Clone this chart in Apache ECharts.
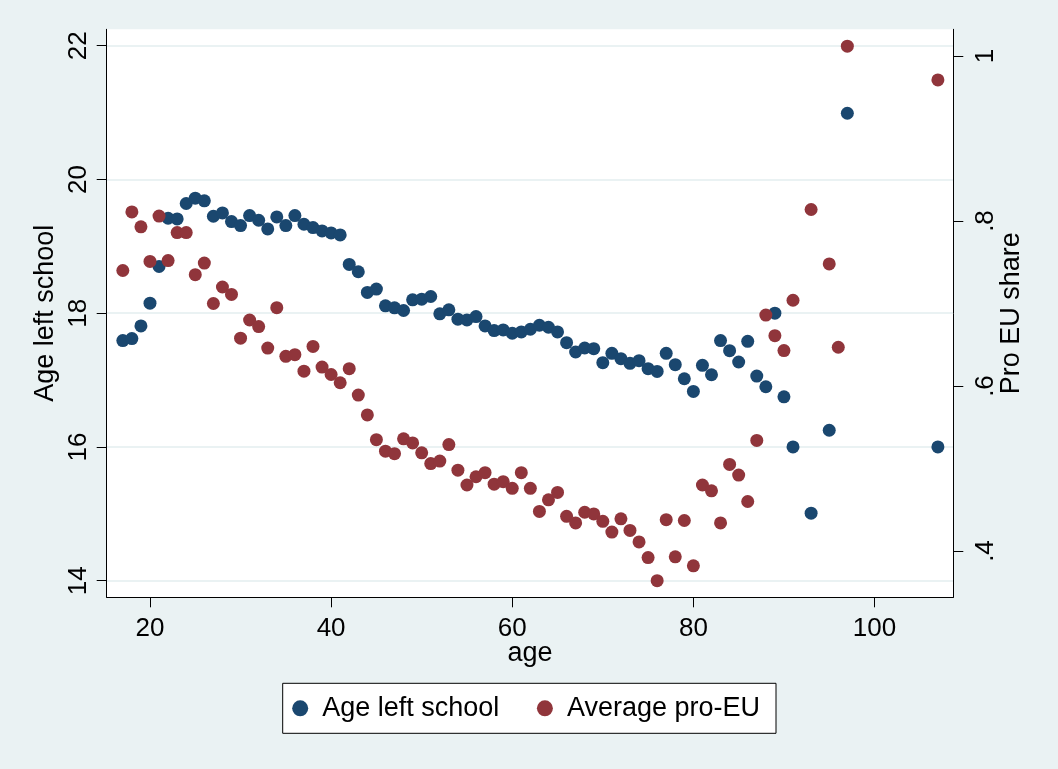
<!DOCTYPE html>
<html>
<head>
<meta charset="utf-8">
<script src="https://cdn.jsdelivr.net/npm/echarts@6/dist/echarts.min.js"></script>
<style>
  html, body { margin: 0; padding: 0; background: #EAF2F3; }
  #chart { width: 1058px; height: 769px; }
</style>
</head>
<body>
<div id="chart"></div>
<script>
// Age at which respondents left school, averaged by age
const schoolAges = [
  17, 18, 19, 20, 21, 22, 23, 24, 25, 26,
  27, 28, 29, 30, 31, 32, 33, 34, 35, 36,
  37, 38, 39, 40, 41, 42, 43, 44, 45, 46,
  47, 48, 49, 50, 51, 52, 53, 54, 55, 56,
  57, 58, 59, 60, 61, 62, 63, 64, 65, 66,
  67, 68, 69, 70, 71, 72, 73, 74, 75, 76,
  77, 78, 79, 80, 81, 82, 83, 84, 85, 86,
  87, 88, 89, 90, 91, 93, 95, 97, 107
];
const schoolValues = [
  17.59, 17.62, 17.81, 18.15, 18.70, 19.42, 19.41, 19.64, 19.72, 19.68,
  19.45, 19.50, 19.37, 19.31, 19.46, 19.39, 19.26, 19.44, 19.31, 19.46,
  19.33, 19.28, 19.23, 19.20, 19.17, 18.73, 18.62, 18.31, 18.36, 18.11,
  18.08, 18.04, 18.20, 18.21, 18.25, 17.99, 18.05, 17.91, 17.90, 17.95,
  17.81, 17.74, 17.75, 17.70, 17.72, 17.76, 17.82, 17.79, 17.72, 17.56,
  17.42, 17.48, 17.47, 17.26, 17.40, 17.32, 17.25, 17.29, 17.17, 17.13,
  17.40, 17.23, 17.02, 16.83, 17.22, 17.08, 17.59, 17.44, 17.27, 17.58,
  17.06, 16.90, 18.00, 16.75, 16.00, 15.01, 16.25, 20.99, 16.00
];

// Share of respondents with pro-EU views, averaged by age
const euAges = [
  17, 18, 19, 20, 21, 22, 23, 24, 25, 26,
  27, 28, 29, 30, 31, 32, 33, 34, 35, 36,
  37, 38, 39, 40, 41, 42, 43, 44, 45, 46,
  47, 48, 49, 50, 51, 52, 53, 54, 55, 56,
  57, 58, 59, 60, 61, 62, 63, 64, 65, 66,
  67, 68, 69, 70, 71, 72, 73, 74, 75, 76,
  77, 78, 79, 80, 81, 82, 83, 84, 85, 86,
  87, 88, 89, 90, 91, 93, 95, 96, 97, 107
];
const euValues = [
  0.740, 0.811, 0.793, 0.751, 0.806, 0.752, 0.786, 0.786, 0.735, 0.749,
  0.700, 0.720, 0.711, 0.658, 0.680, 0.672, 0.646, 0.695, 0.636, 0.638,
  0.618, 0.648, 0.623, 0.614, 0.604, 0.621, 0.589, 0.565, 0.535, 0.521,
  0.518, 0.536, 0.531, 0.519, 0.506, 0.509, 0.529, 0.498, 0.480, 0.490,
  0.495, 0.481, 0.484, 0.476, 0.495, 0.476, 0.448, 0.462, 0.471, 0.442,
  0.434, 0.447, 0.445, 0.436, 0.423, 0.439, 0.425, 0.411, 0.392, 0.364,
  0.438, 0.393, 0.437, 0.382, 0.480, 0.473, 0.434, 0.505, 0.492, 0.460,
  0.534, 0.686, 0.661, 0.643, 0.704, 0.814, 0.748, 0.647, 1.012, 0.971
];

// Tick labels
const xTicks = [20, 40, 60, 80, 100];
const leftTicks = [14, 16, 18, 20, 22];
const rightTicks = [0.4, 0.6, 0.8, 1];

const FONT = '"Liberation Sans", Arial, Helvetica, sans-serif';
const INK = '#000000';
const PANEL_BG = '#EAF2F3';
const NAVY = '#1a476f';
const MAROON = '#90353b';

const chart = echarts.init(document.getElementById('chart'), null, { renderer: 'canvas' });

const axisLineStyle = { show: true, onZero: false, lineStyle: { color: INK, width: 1 } };

const option = {
  animation: false,
  backgroundColor: PANEL_BG,
  textStyle: { fontFamily: FONT, color: INK },
  grid: {
    left: 106.7, right: 104.7, top: 29.3, bottom: 171.7,
    show: true, backgroundColor: '#ffffff', borderWidth: 0,
    containLabel: false, outerBoundsMode: 'none'
  },
  legend: {
    data: ['Age left school', 'Average pro-EU'],
    left: 282.7, top: 683.3,
    orient: 'horizontal',
    icon: 'circle',
    itemWidth: 16, itemHeight: 16, itemGap: 37.6,
    padding: [11.5, 16, 11.5, 9.5],
    backgroundColor: '#ffffff', borderColor: INK, borderWidth: 1, borderRadius: 0,
    textStyle: { fontFamily: FONT, fontSize: 27, color: INK, padding: [0, 0, 0, 9] }
  },
  xAxis: {
    type: 'value', min: 15.22, max: 108.7,
    name: 'age', nameLocation: 'middle', nameGap: 43, nameMoveOverlap: false,
    nameTextStyle: { fontFamily: FONT, fontSize: 27, color: INK },
    axisLine: axisLineStyle,
    axisTick: { show: true, inside: false, length: 10, customValues: xTicks, lineStyle: { color: INK, width: 1 } },
    axisLabel: { customValues: xTicks, fontFamily: FONT, fontSize: 26, margin: 18.3, color: INK },
    splitLine: { show: false }
  },
  yAxis: [
    {
      type: 'value', position: 'left', min: 13.752, max: 22.245,
      name: 'Age left school', nameLocation: 'middle', nameGap: 48, nameRotate: 90, nameMoveOverlap: false,
      nameTextStyle: { fontFamily: FONT, fontSize: 27, color: INK },
      axisLine: axisLineStyle,
      axisTick: { show: true, inside: false, length: 10, customValues: leftTicks, lineStyle: { color: INK, width: 1 } },
      axisLabel: { customValues: leftTicks, rotate: 90, fontFamily: FONT, fontSize: 26, margin: 14.5, color: INK },
      splitLine: { show: true, lineStyle: { color: PANEL_BG, width: 2 } }
    },
    {
      type: 'value', position: 'right', min: 0.3439, max: 1.0324,
      name: 'Pro EU share', nameLocation: 'middle', nameGap: 44.5, nameRotate: 90, nameMoveOverlap: false,
      nameTextStyle: { fontFamily: FONT, fontSize: 27, color: INK },
      axisLine: axisLineStyle,
      axisTick: { show: true, inside: false, length: 10, customValues: rightTicks, lineStyle: { color: INK, width: 1 } },
      axisLabel: {
        customValues: rightTicks, rotate: 90, fontFamily: FONT, fontSize: 26, margin: 20, color: INK,
        formatter: function (v) {
          if (Math.abs(v - 1) < 1e-9) return '1';
          return String(Math.round(v * 10) / 10).replace(/^0/, '');
        }
      },
      splitLine: { show: false }
    }
  ],
  series: [
    {
      name: 'Age left school',
      type: 'scatter',
      xAxisIndex: 0, yAxisIndex: 0,
      symbol: 'circle', symbolSize: 13,
      itemStyle: { color: NAVY, opacity: 1 },
      data: schoolAges.map((a, i) => [a, schoolValues[i]])
    },
    {
      name: 'Average pro-EU',
      type: 'scatter',
      xAxisIndex: 0, yAxisIndex: 1,
      symbol: 'circle', symbolSize: 13,
      itemStyle: { color: MAROON, opacity: 1 },
      data: euAges.map((a, i) => [a, euValues[i]])
    }
  ]
};

chart.setOption(option);
</script>
</body>
</html>
